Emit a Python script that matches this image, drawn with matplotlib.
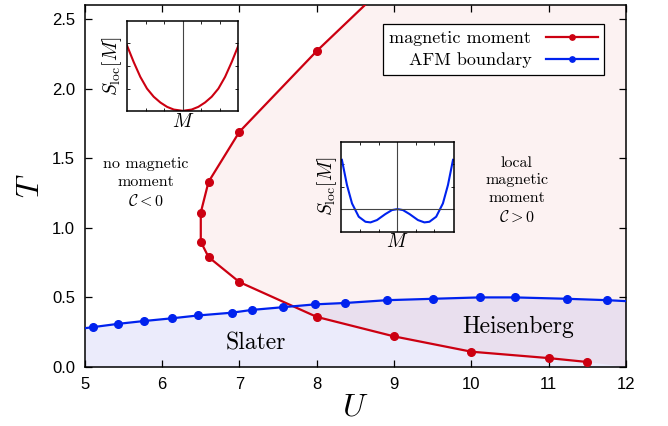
import numpy as np
import matplotlib
matplotlib.use("Agg")
import matplotlib.pyplot as plt

plt.rcParams['mathtext.fontset'] = 'cm'
plt.rcParams['font.family'] = ['cmr10', 'DejaVu Serif']
plt.rcParams['axes.formatter.use_mathtext'] = True

# magnetic moment line (U, T)
mm_U = [9.0, 8.0, 7.0, 6.6, 6.5, 6.5, 6.6, 7.0, 8.0, 9.0, 10.0, 11.0, 11.5]
mm_T = [2.80, 2.27, 1.69, 1.33, 1.11, 0.90, 0.79, 0.61, 0.36, 0.22, 0.11, 0.064, 0.036]

# AFM boundary (U, T)
afm_U = [4.77, 5.10, 5.43, 5.76, 6.13, 6.46, 6.90, 7.16, 7.57, 7.98, 8.37, 8.91, 9.50,
         10.11, 10.56, 11.24, 11.76, 12.30]
afm_T = [0.262, 0.286, 0.31, 0.33, 0.35, 0.37, 0.39, 0.41, 0.43, 0.45, 0.46, 0.48, 0.49,
         0.50, 0.50, 0.49, 0.48, 0.465]

# inset curves (M normalised to [-1, 1], S_loc in axes units)
in1_M = [-1.0, -0.88, -0.76, -0.64, -0.52, -0.40, -0.28, -0.16, 0.0,
         0.16, 0.28, 0.40, 0.52, 0.64, 0.76, 0.88, 1.0]
in1_S = [0.73, 0.546, 0.38, 0.25, 0.16, 0.096, 0.048, 0.018, 0.004,
         0.018, 0.048, 0.096, 0.16, 0.25, 0.38, 0.546, 0.73]

in2_M = [-0.99, -0.90, -0.81, -0.69, -0.57, -0.48, -0.365, -0.217, -0.098, 0.0,
         0.098, 0.217, 0.365, 0.48, 0.57, 0.69, 0.81, 0.90, 0.99]
in2_S = [0.80, 0.52, 0.315, 0.167, 0.111, 0.104, 0.13, 0.196, 0.241, 0.252,
         0.241, 0.196, 0.13, 0.104, 0.111, 0.167, 0.315, 0.52, 0.80]
in2_zero = 0.248

red = '#cc0011'
blue = '#0022ee'
xlim = (5, 12)
ylim = (0, 2.6)

fig = plt.figure(figsize=(6.68, 4.26), dpi=100)
ax = fig.add_axes([0.127, 0.1385, 0.81, 0.8495])

# shaded regions
ax.fill_between(afm_U, 0, afm_T, color='#0000cc', alpha=0.08, lw=0, zorder=0)
poly_U = mm_U + [xlim[1], xlim[1], mm_U[0]]
poly_T = mm_T + [ylim[0], mm_T[0], mm_T[0]]
ax.fill(poly_U, poly_T, color='#cc0000', alpha=0.05, lw=0, zorder=0)

ax.plot(mm_U, mm_T, '-o', color=red, lw=1.6, ms=5.5, label='magnetic moment', zorder=3)
ax.plot(afm_U, afm_T, '-o', color=blue, lw=1.6, ms=5.5, label='AFM boundary', zorder=3)

ax.set_xlim(*xlim)
ax.set_ylim(*ylim)
ax.set_xticks([5, 6, 7, 8, 9, 10, 11, 12])
ax.set_yticks([0, 0.5, 1.0, 1.5, 2.0, 2.5])
ax.tick_params(direction='in', length=5, width=0.9, top=True, right=True, pad=7,
               labelsize=12)
ax.yaxis.set_major_formatter(matplotlib.ticker.FormatStrFormatter('%.1f'))
ax.xaxis.set_major_formatter(matplotlib.ticker.FormatStrFormatter('%d'))
for lab in ax.get_xticklabels() + ax.get_yticklabels():
    lab.set_fontfamily('Liberation Sans')
for s in ax.spines.values():
    s.set_linewidth(1.1)

ax.set_xlabel('$U$', fontsize=23, labelpad=2)
ax.set_ylabel('$T$', fontsize=23, labelpad=5)

leg = ax.legend(loc='upper right', bbox_to_anchor=(0.977, 0.972), markerfirst=False,
                numpoints=1, fontsize=13, fancybox=False, framealpha=1,
                edgecolor='black', handlelength=2.9, markerscale=0.7,
                borderpad=0.35, labelspacing=0.35)
leg.get_frame().set_linewidth(0.9)

ax.text(5.79, 1.32, 'no magnetic\nmoment\n$\\mathcal{C} < 0$', ha='center', va='center',
        fontsize=11.5, linespacing=1.35)
ax.text(10.59, 1.27, 'local\nmagnetic\nmoment\n$\\mathcal{C} > 0$', ha='center',
        va='center', fontsize=11.5, linespacing=1.35)
ax.text(7.21, 0.17, 'Slater', ha='center', va='center', fontsize=17)
ax.text(10.6, 0.29, 'Heisenberg', ha='center', va='center', fontsize=17)

# insets
def inset(rect, M, S, color, zero=None):
    a = fig.add_axes(rect)
    a.plot(M, S, color=color, lw=1.5)
    a.axvline(0, color='#444444', lw=0.8)
    if zero is not None:
        a.axhline(zero, color='#444444', lw=0.8)
    a.set_xlim(-1, 1)
    a.set_ylim(0, 1)
    a.set_xticks([-0.66, -0.33, 0.33, 0.66])
    a.set_yticks([0.25, 0.5, 0.75])
    a.tick_params(direction='in', length=2, width=0.6, top=True, right=True,
                  labelbottom=False, labelleft=False)
    for s in a.spines.values():
        s.set_linewidth(1.1)
    a.set_xlabel('$M$', fontsize=14, labelpad=1)
    a.set_ylabel('$S_{\\rm loc}[M]$', fontsize=14, labelpad=2)
    return a

inset([0.190, 0.739, 0.167, 0.212], in1_M, in1_S, red)
inset([0.511, 0.456, 0.168, 0.211], in2_M, in2_S, blue, zero=in2_zero)

fig.savefig('out.png', dpi=100)
